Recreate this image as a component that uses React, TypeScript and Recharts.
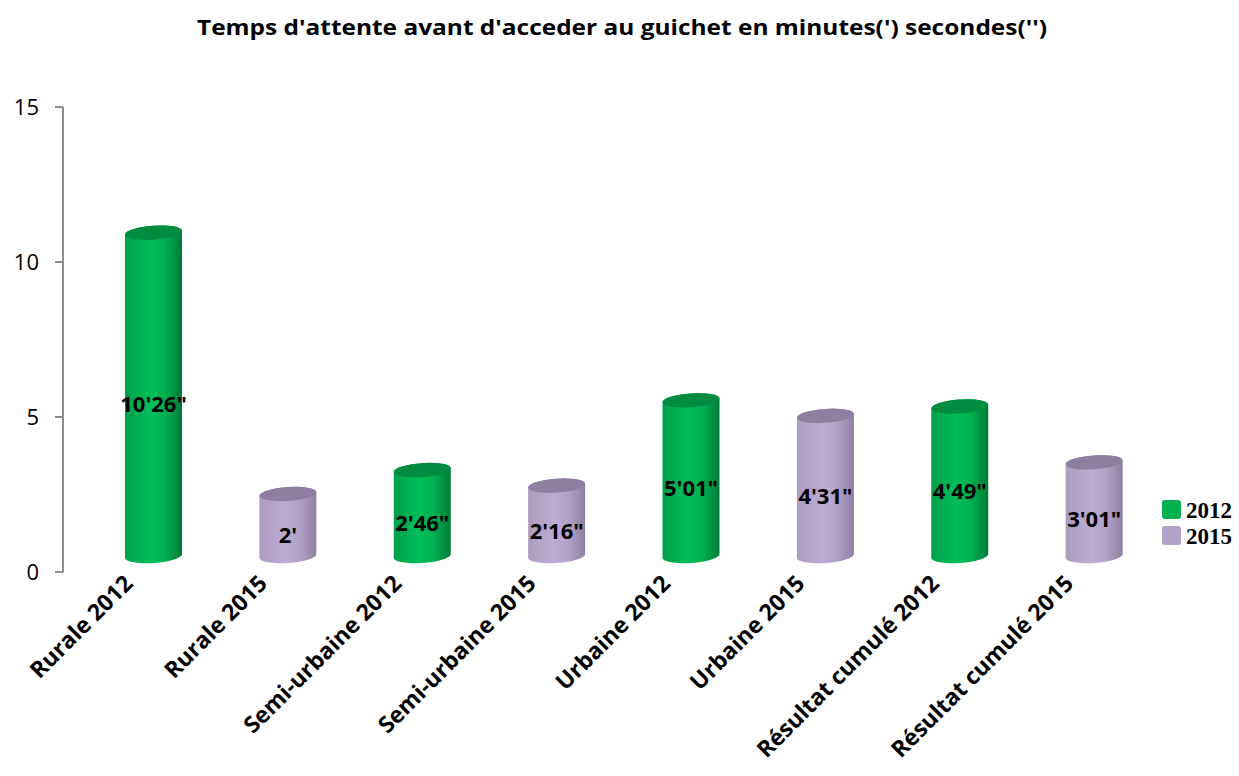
import React from "react";
import { BarChart, Bar, XAxis, YAxis, LabelList } from "recharts";

const categories = [
  "Rurale 2012",
  "Rurale 2015",
  "Semi-urbaine 2012",
  "Semi-urbaine 2015",
  "Urbaine 2012",
  "Urbaine 2015",
  "Résultat cumulé 2012",
  "Résultat cumulé 2015",
];
const years = ["2012", "2015", "2012", "2015", "2012", "2015", "2012", "2015"];
const values = [10.43, 2.0, 2.77, 2.27, 5.02, 4.52, 4.82, 3.02];
const valueLabels = ["10'26\"", "2'", "2'46\"", "2'16\"", "5'01\"", "4'31\"", "4'49\"", "3'01\""];
const yTicks = [0, 5, 10, 15];
const legendItems = ["2012", "2015"];

const data = categories.map((c, i) => ({
  name: c,
  year: years[i],
  value: values[i],
  label: valueLabels[i],
}));

const SHIFT = 16;
const RY = 7;
const TILT = -4;

const Cylinder = (props: any) => {
  const { x, y, width, height, payload } = props;
  const is12 = payload.year === "2012";
  const cx = x + width / 2;
  const rx = width / 2;
  const topY = y - SHIFT;
  const botY = y + height - SHIFT;
  const d = Math.sin((Math.abs(TILT) * Math.PI) / 180) * rx;
  const grad = is12 ? "url(#gGreen)" : "url(#gPurple)";
  const topFill = is12 ? "#008C40" : "#8E7FA2";
  const body = `M ${x} ${topY + d} L ${x} ${botY + d} A ${rx} ${RY} ${TILT} 0 0 ${x + width} ${botY - d} L ${x + width} ${topY - d} A ${rx} ${RY} ${TILT} 0 0 ${x} ${topY + d} Z`;
  return (
    <g>
      <path d={body} fill={grad} />
      <ellipse
        cx={cx}
        cy={topY}
        rx={rx}
        ry={RY}
        fill={topFill}
        transform={`rotate(${TILT}, ${cx}, ${topY})`}
      />
    </g>
  );
};

const XTick = (props: any) => {
  const { x, y, payload } = props;
  const ax = x - 19;
  const ay = y + 5;
  return (
    <text
      x={ax}
      y={ay}
      transform={`rotate(-45, ${ax}, ${ay})`}
      textAnchor="end"
      fontFamily="'Open Sans', sans-serif"
      fontWeight={700}
      fontSize={23}
      fill="#000"
    >
      {payload.value}
    </text>
  );
};

const ValueLabel = (props: any) => {
  const { x, y, width, height, value } = props;
  return (
    <text
      x={x + width / 2}
      y={y + height / 2 - 7}
      textAnchor="middle"
      dominantBaseline="central"
      fontFamily="'Open Sans', sans-serif"
      fontWeight={700}
      fontSize={22}
      fill="#000"
    >
      {value}
    </text>
  );
};

export default function App() {
  return (
    <div style={{ position: "absolute", left: 0, top: 0, width: 1239, height: 776, background: "#fff" }}>
      <BarChart
        width={1239}
        height={776}
        data={data}
        margin={{ top: 107, right: 78, bottom: 0, left: 0 }}
      >
        <defs>
          <linearGradient id="gGreen" x1="0" y1="0" x2="1" y2="0">
            <stop offset="0%" stopColor="#00A04A" />
            <stop offset="45%" stopColor="#00BE58" />
            <stop offset="70%" stopColor="#00B050" />
            <stop offset="100%" stopColor="#007A36" />
          </linearGradient>
          <linearGradient id="gPurple" x1="0" y1="0" x2="1" y2="0">
            <stop offset="0%" stopColor="#AC9DC0" />
            <stop offset="45%" stopColor="#BCABD2" />
            <stop offset="70%" stopColor="#B2A2C8" />
            <stop offset="100%" stopColor="#8E7FA2" />
          </linearGradient>
        </defs>
        <XAxis
          dataKey="name"
          interval={0}
          axisLine={false}
          tickLine={false}
          height={204}
          padding={{ left: 23, right: 0 }}
          tick={<XTick />}
        />
        <YAxis
          domain={[0, 15]}
          ticks={yTicks}
          width={63}
          axisLine={{ stroke: "#8C8C8C", strokeWidth: 2 }}
          tickLine={{ stroke: "#8C8C8C", strokeWidth: 2 }}
          tickSize={8}
          tickMargin={16}
          tick={{ fill: "#000", fontSize: 22, fontFamily: "'Open Sans', sans-serif" }}
        />
        <Bar dataKey="value" barSize={57} shape={<Cylinder />} isAnimationActive={false}>
          <LabelList dataKey="label" content={<ValueLabel />} />
        </Bar>
      </BarChart>
      <svg
        width={1239}
        height={776}
        style={{ position: "absolute", left: 0, top: 0, pointerEvents: "none" }}
      >
        <text
          x={622}
          y={35}
          textAnchor="middle"
          fontFamily="'Open Sans', sans-serif"
          fontWeight={700}
          fontSize={21}
          textLength={850}
          lengthAdjust="spacingAndGlyphs"
          fill="#000"
        >
          Temps d'attente avant d'acceder au guichet en minutes(') secondes('')
        </text>
        {legendItems.map((it, i) => (
          <g key={it}>
            <rect
              x={1162}
              y={500 + i * 26}
              width={19}
              height={19}
              rx={3}
              fill={i === 0 ? "#00B050" : "#B3A2C7"}
            />
            <text
              x={1186}
              y={518 + i * 26}
              fontFamily="'Liberation Serif', serif"
              fontWeight={700}
              fontSize={23}
              fill="#000"
            >
              {it}
            </text>
          </g>
        ))}
      </svg>
    </div>
  );
}
